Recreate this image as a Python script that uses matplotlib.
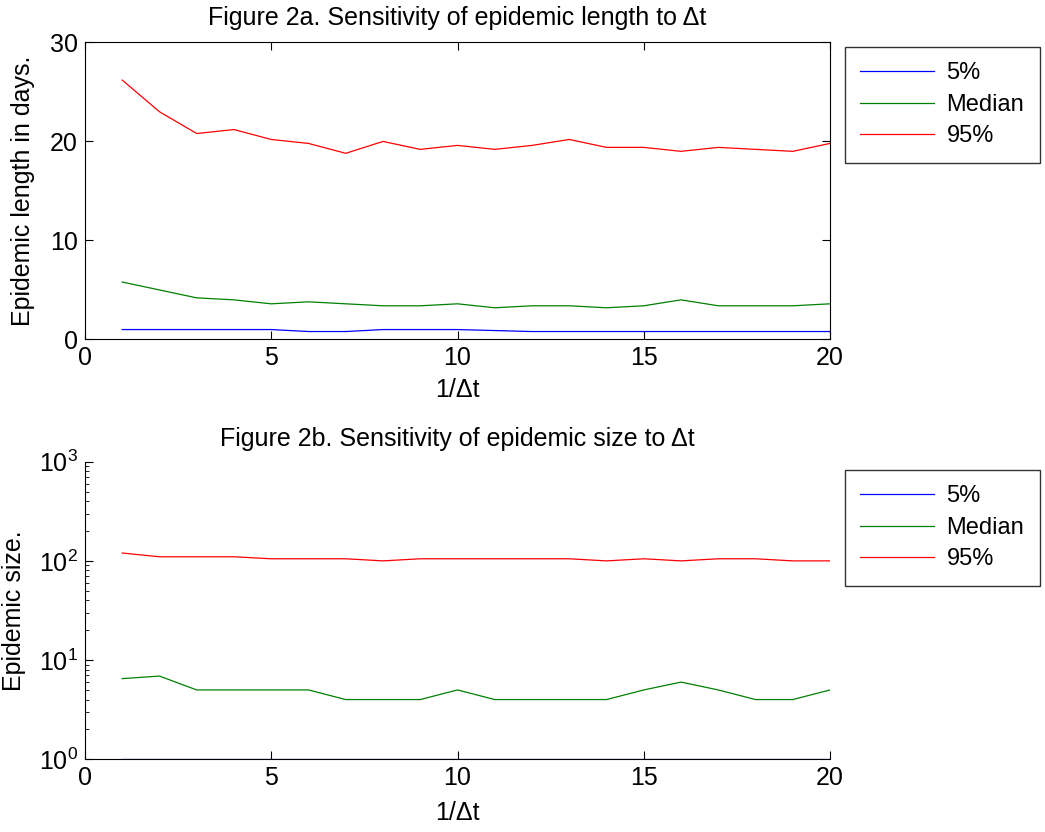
import numpy as np
import matplotlib
matplotlib.use('Agg')
from matplotlib import pyplot as plt
from matplotlib.ticker import LogLocator, NullFormatter

plt.rcParams['font.family'] = ['Liberation Sans', 'DejaVu Sans']
plt.rcParams['mathtext.fontset'] = 'custom'
plt.rcParams['mathtext.rm'] = 'Liberation Sans'
plt.rcParams['mathtext.it'] = 'Liberation Sans:italic'

x = np.arange(1, 21)

# Figure 2a: epidemic length (days)
len_p5 = [1.0, 1.0, 1.0, 1.0, 1.0, 0.8, 0.8, 1.0, 1.0, 1.0,
          0.9, 0.8, 0.8, 0.8, 0.8, 0.8, 0.8, 0.8, 0.8, 0.8]
len_med = [5.8, 5.0, 4.2, 4.0, 3.6, 3.8, 3.6, 3.4, 3.4, 3.6,
           3.2, 3.4, 3.4, 3.2, 3.4, 4.0, 3.4, 3.4, 3.4, 3.6]
len_p95 = [26.2, 23.0, 20.8, 21.2, 20.2, 19.8, 18.8, 20.0, 19.2, 19.6,
           19.2, 19.6, 20.2, 19.4, 19.4, 19.0, 19.4, 19.2, 19.0, 19.8]

# Figure 2b: epidemic size
size_p5 = [1] * 20
size_med = [6.5, 6.9, 5, 5, 5, 5, 4, 4, 4, 5,
            4, 4, 4, 4, 5, 6, 5, 4, 4, 5]
size_p95 = [120, 110, 110, 110, 105, 105, 105, 100, 105, 105,
            105, 105, 105, 100, 105, 100, 105, 105, 100, 100]

labels = ['5%', 'Median', '95%']
colors = ['#0000ff', '#008000', '#ff0000']
fs = 18

fig = plt.figure(figsize=(10.45, 8.32), dpi=100)

# top panel
ax1 = fig.add_axes([0.0813, 0.592, 0.713, 0.357])
for yv, c, lab in zip([len_p5, len_med, len_p95], colors, labels):
    ax1.plot(x, yv, color=c, lw=0.9, label=lab)
ax1.set_xlim(0, 20)
ax1.set_ylim(0, 30)
ax1.set_xticks([0, 5, 10, 15, 20])
ax1.set_yticks([0, 10, 20, 30])
ax1.tick_params(direction='in', top=True, right=True, labelsize=fs, length=6, pad=5)
ax1.set_title('Figure 2a. Sensitivity of epidemic length to \u0394t', fontsize=fs, pad=12.5)
ax1.set_xlabel('1/\u0394t', fontsize=fs, labelpad=5.5)
ax1.set_ylabel('Epidemic length in days.', fontsize=fs, labelpad=11)
fig.legend(*ax1.get_legend_handles_labels(), loc='upper left',
           bbox_to_anchor=(845 / 1045, 1 - 47 / 832), fontsize=17, frameon=True,
           fancybox=False, edgecolor='black', handlelength=3.1, borderpad=0.65,
           labelspacing=0.4, handletextpad=0.55, borderaxespad=0)

# bottom panel
ax2 = fig.add_axes([0.0813, 0.0874, 0.713, 0.3577])
for yv, c, lab in zip([size_p5, size_med, size_p95], colors, labels):
    ax2.plot(x, yv, color=c, lw=0.9, label=lab)
ax2.set_yscale('log')
ax2.set_xlim(0, 20)
ax2.set_ylim(1, 1000)
ax2.set_xticks([0, 5, 10, 15, 20])
ax2.yaxis.set_major_locator(LogLocator(base=10, numticks=5))
ax2.yaxis.set_minor_locator(LogLocator(base=10, subs=np.arange(2, 10), numticks=10))
ax2.yaxis.set_minor_formatter(NullFormatter())
ax2.spines['top'].set_visible(False)
ax2.spines['right'].set_visible(False)
ax2.tick_params(direction='in', which='both', labelsize=fs, pad=5)
ax2.tick_params(which='major', length=6)
ax2.tick_params(which='minor', length=3)
ax2.set_title('Figure 2b. Sensitivity of epidemic size to \u0394t', fontsize=fs, pad=11)
ax2.set_xlabel('1/\u0394t', fontsize=fs, labelpad=8)
ax2.set_ylabel('Epidemic size.', fontsize=fs, labelpad=9)
fig.legend(*ax2.get_legend_handles_labels(), loc='upper left',
           bbox_to_anchor=(845 / 1045, 1 - 470 / 832), fontsize=17, frameon=True,
           fancybox=False, edgecolor='black', handlelength=3.1, borderpad=0.65,
           labelspacing=0.4, handletextpad=0.55, borderaxespad=0)
for leg in fig.legends:
    leg.get_frame().set_linewidth(1.0)

plt.savefig('out.png', dpi=100)
